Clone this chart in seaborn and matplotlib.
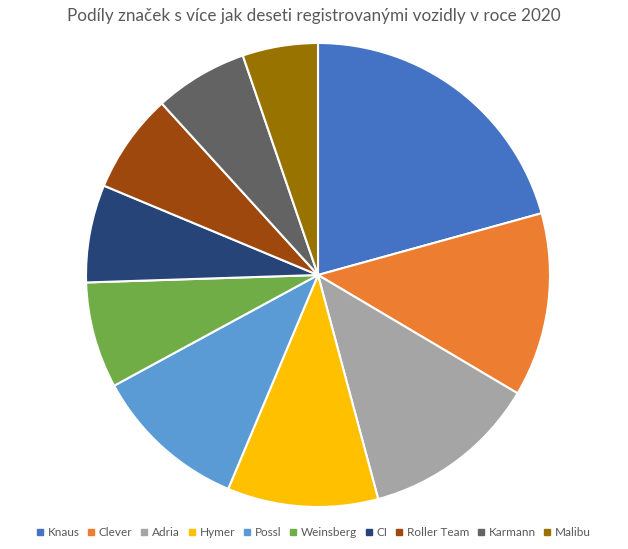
import matplotlib
matplotlib.use("Agg")
import matplotlib.pyplot as plt
import seaborn as sns
from matplotlib.lines import Line2D

brands = ["Knaus", "Clever", "Adria", "Hymer", "Possl", "Weinsberg", "CI",
          "Roller Team", "Karmann", "Malibu"]
shares = [20.7, 12.8, 12.3, 10.5, 10.75, 7.4, 6.8, 6.95, 6.5, 5.25]
colors = ["#4472C4", "#ED7D31", "#A5A5A5", "#FFC000", "#5B9BD5", "#70AD47",
          "#264478", "#9E480E", "#636363", "#997300"]
title = "Podíly značek s více jak deseti registrovanými vozidly v roce 2020"

sns.set_theme(style="white")
plt.rcParams["font.family"] = ["Lato", "DejaVu Sans"]
palette = sns.color_palette(colors)

fig = plt.figure(figsize=(6.28, 5.49), dpi=100)
ax = fig.add_axes([86/628, (549-507)/549, 464/628, 464/549])
ax.pie(shares, colors=palette, startangle=90, counterclock=False, radius=1,
       wedgeprops=dict(edgecolor="white", linewidth=1.5))
ax.set_xlim(-1.0, 1.0)
ax.set_ylim(-1.0, 1.0)
ax.set_aspect("equal")
ax.axis("off")

fig.text(0.5, 1 - 16/549, title, ha="center", va="center", fontsize=12.3,
         color="#595959")

handles = [Line2D([0], [0], marker="s", linestyle="", markersize=4.5,
                  markerfacecolor=c, markeredgecolor=c) for c in palette]
fig.legend(handles, brands, loc="center", bbox_to_anchor=(0.5, 1 - 533/549),
           ncol=len(brands), frameon=False, fontsize=8.5, labelcolor="#595959",
           handlelength=0.5, handletextpad=0.4, columnspacing=0.75,
           borderpad=0, borderaxespad=0)

fig.savefig("out.png", dpi=100, facecolor="white")
